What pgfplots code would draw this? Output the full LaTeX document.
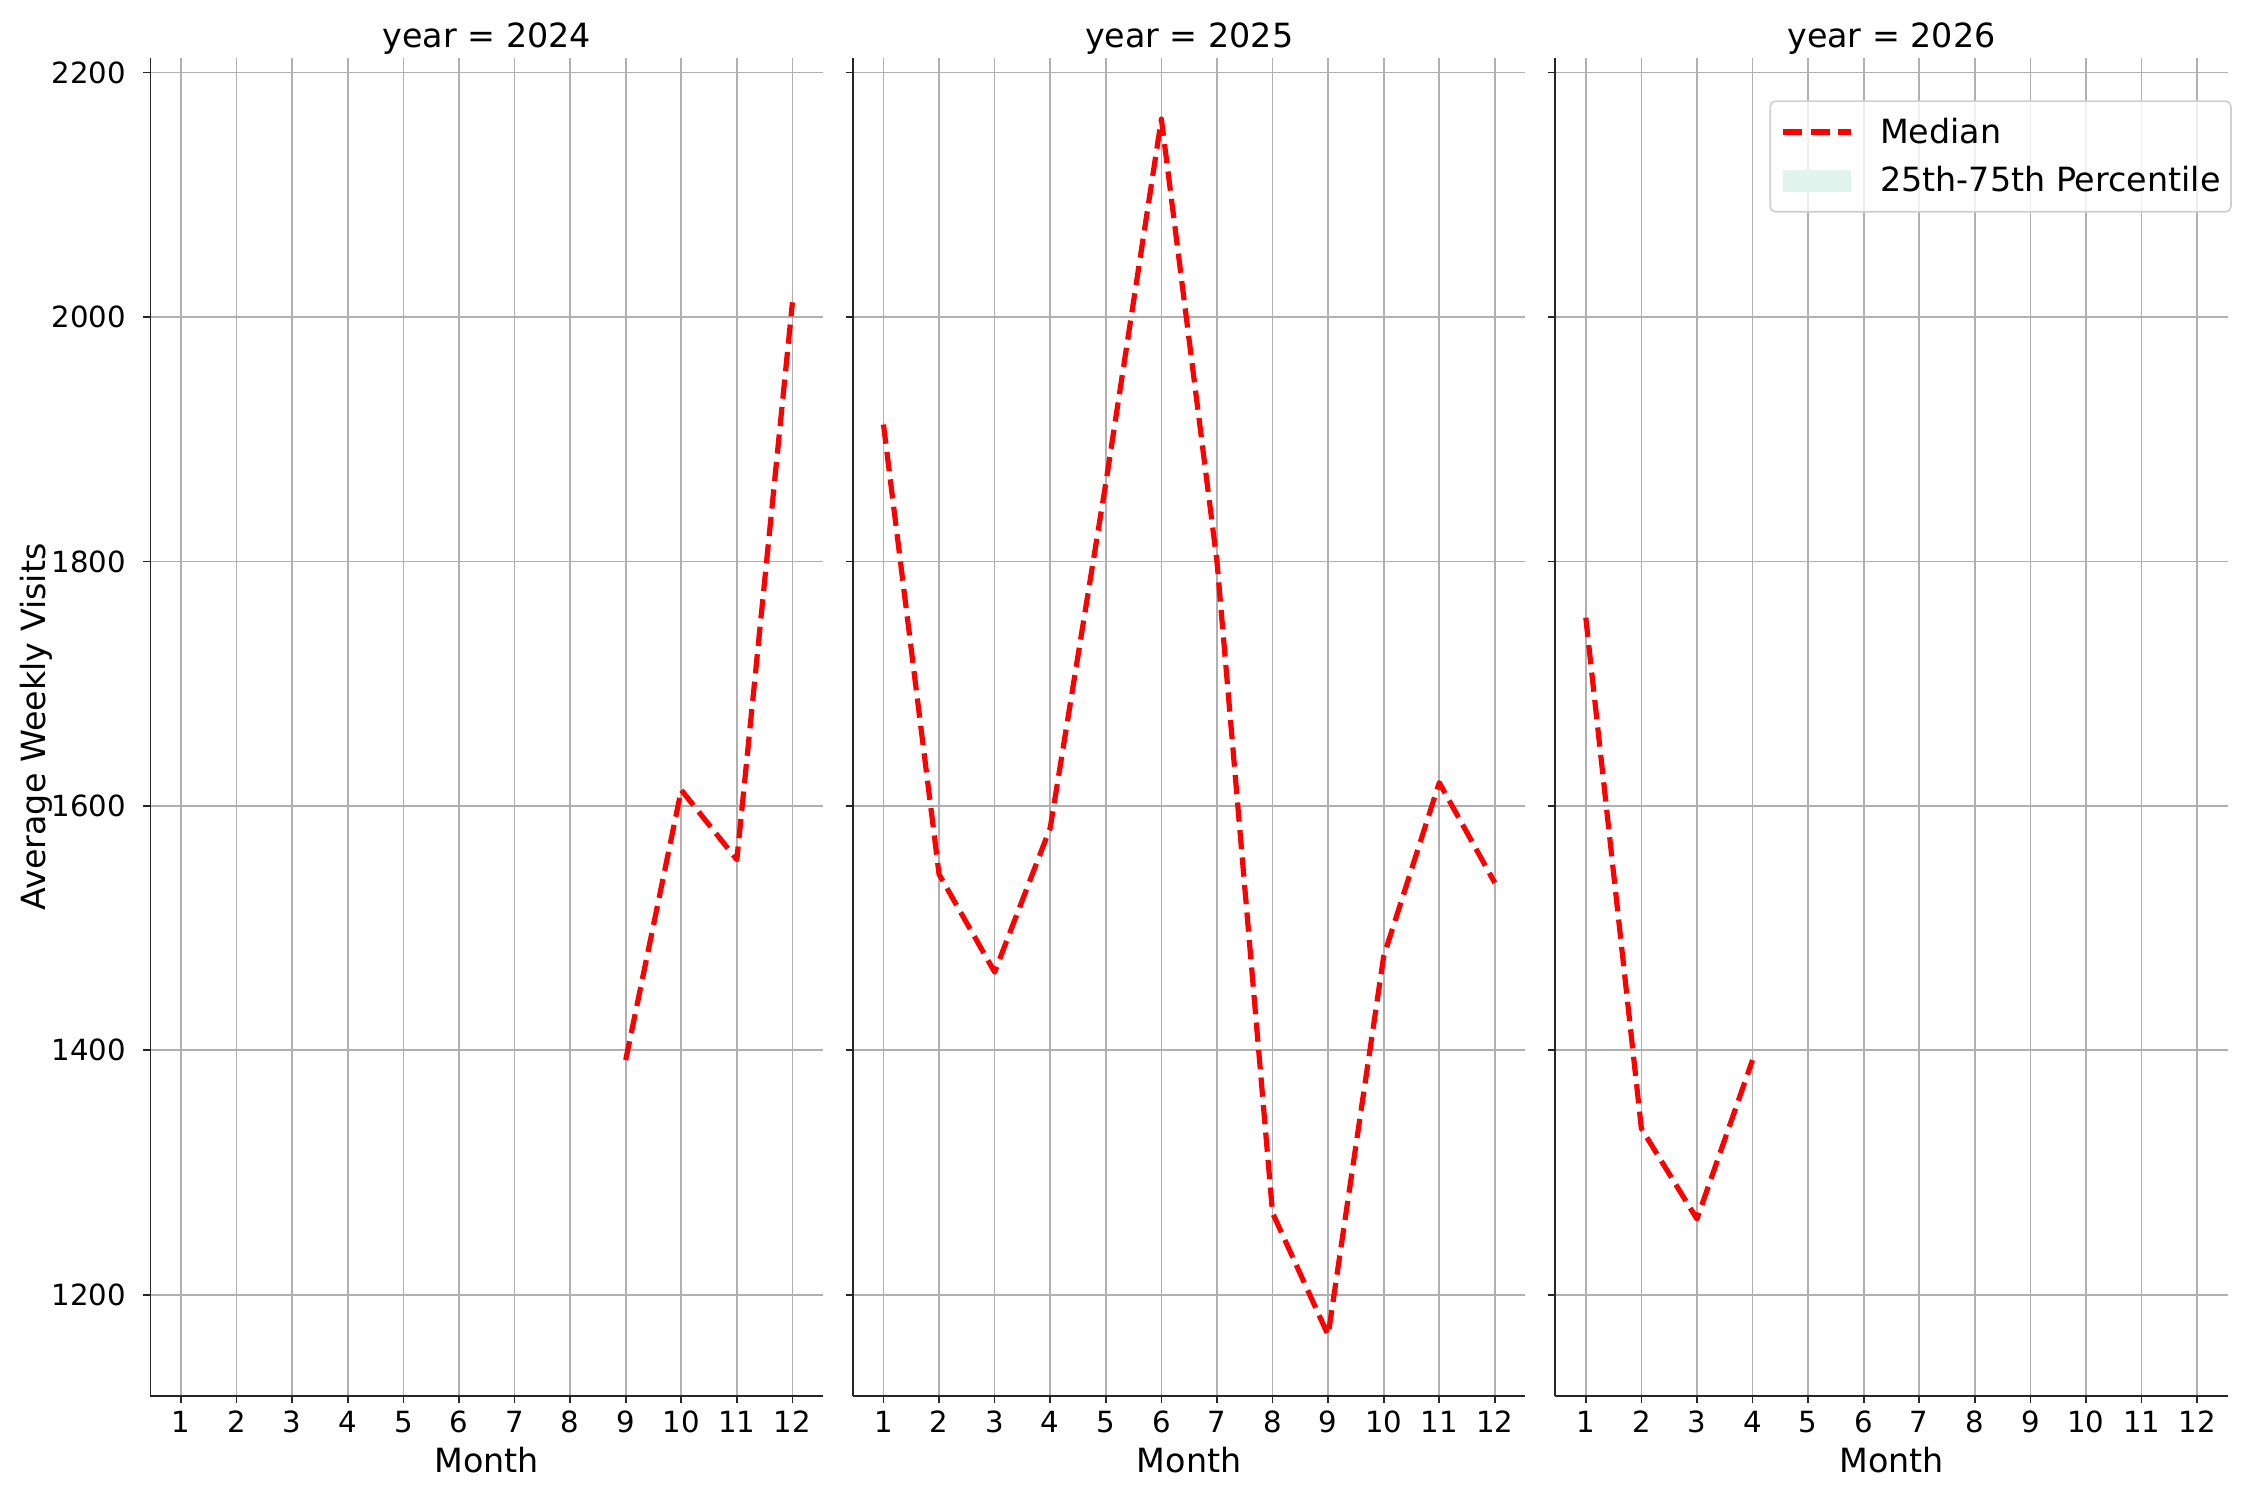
\documentclass[border=0pt]{standalone}
\usepackage{fontspec}
\setmainfont{DejaVu Sans}
\usepackage{pgfplots}
\pgfplotsset{compat=1.18}

\definecolor{gridgray}{HTML}{B0B0B0}
\definecolor{spine}{HTML}{262626}
\definecolor{bandfill}{HTML}{E0F3ED}
\definecolor{legendedge}{HTML}{D0D0D0}

% median weekly visits per month, one table per year
\pgfplotstableread{
month visits
9  1392
10 1613
11 1556
12 2012
}\yeartwentyfour
\pgfplotstableread{
month visits
1  1912
2  1544
3  1464
4  1582
5  1864
6  2162
7  1800
8  1267
9  1167
10 1477
11 1619
12 1537
}\yeartwentyfive
\pgfplotstableread{
month visits
1  1754
2  1336
3  1262
4  1392
}\yeartwentysix

\pgfplotsset{
  facet/.style={
    scale only axis,
    width=322.8pt, height=642.2pt,
    anchor=south west,
    xmin=0.45, xmax=12.55,
    ymin=1117.3, ymax=2212,
    xtick={1,2,...,12},
    ytick={1200,1400,...,2200},
    axis lines*=left,
    axis line style={-, color=spine, line width=0.8pt},
    xtick pos=left, ytick pos=left,
    tick align=outside,
    major tick length=3.5pt,
    tick style={color=spine, line width=0.8pt},
    grid=major,
    major grid style={color=gridgray, line width=0.8pt},
    /pgf/number format/assume math mode=true,
    /pgf/number format/1000 sep={},
    ticklabel style={font=\fontsize{14}{16}\selectfont, inner sep=0pt},
    xticklabel style={anchor=base, yshift=-14.1pt},
    yticklabel style={anchor=east, xshift=-8pt},
    every axis title/.style={at={(0.5,1)}, anchor=base, yshift=5pt,
      font=\fontsize{16}{19}\selectfont},
    every axis x label/.style={at={(axis description cs:0.5,0)}, anchor=base,
      yshift=-37pt, font=\fontsize{16}{19}\selectfont},
    every axis y label/.style={at={(axis description cs:0,0.5)},
      xshift=-50.4pt, rotate=90, anchor=base,
      font=\fontsize{16}{19}\selectfont},
    xlabel={Month},
  },
  median/.style={color=red, line width=2.5pt, dash pattern=on 9.25pt off 4pt,
    line join=round},
}

\begin{document}
\begin{tikzpicture}
\useasboundingbox (0,0) rectangle (1080pt,720pt);

\begin{axis}[facet, at={(72.24pt,50pt)}, title={year = 2024},
  ylabel={Average Weekly Visits}]
\addplot[median] table[x=month, y=visits] {\yeartwentyfour};
\end{axis}

\begin{axis}[facet, at={(409.4pt,50pt)}, title={year = 2025},
  yticklabels={}]
\addplot[median] table[x=month, y=visits] {\yeartwentyfive};
\end{axis}

\begin{axis}[facet, at={(746.5pt,50pt)}, title={year = 2026},
  yticklabels={},
  legend cell align=left,
  legend style={at={(1.006,0.9683)}, anchor=north east,
    draw=legendedge, fill=white, fill opacity=0.8, text opacity=1,
    rounded corners=2.5pt, line width=0.8pt,
    inner xsep=5pt, inner ysep=8pt,
    font=\fontsize{16}{19}\selectfont,
    nodes={inner sep=0pt},
    row sep=9.8pt,
    /tikz/every odd column/.append style={column sep=12.7pt}},
  legend image code/.code={\draw[#1] (0pt,0pt) -- (32.6pt,0pt);}]
\addplot[median] table[x=month, y=visits] {\yeartwentysix};
\addlegendentry{Median}
\addlegendimage{legend image code/.code={
  \fill[bandfill, draw=none, sharp corners, fill opacity=1]
    (0pt,-5.45pt) rectangle (32.6pt,5.45pt);}}
\addlegendentry{25th-75th Percentile}
\end{axis}
\end{tikzpicture}
\end{document}
